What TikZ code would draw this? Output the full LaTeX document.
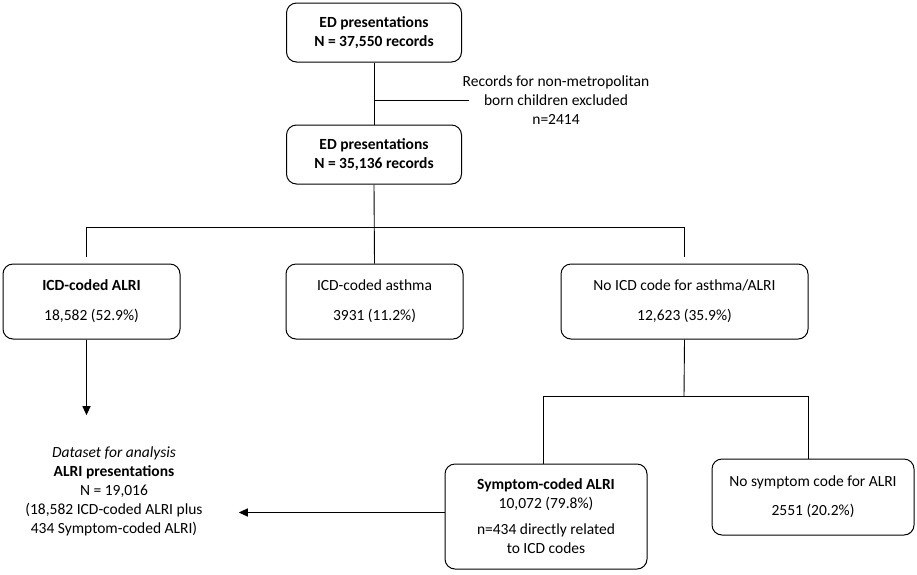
\documentclass[tikz,border=0pt]{standalone}
\usepackage{fontspec}
\setmainfont{Carlito}
\usetikzlibrary{arrows.meta}

\tikzset{
    flowbox/.style={draw, line width=1pt, rounded corners=10pt, align=center,
        inner sep=0pt},
    plaintext/.style={align=center, inner sep=0pt},
    link/.style={line width=0.9pt},
    arrowlink/.style={line width=1.1pt, -{Triangle[length=9pt,width=8pt]}}
}

\begin{document}
\begin{tikzpicture}[x=1pt, y=-1pt, font=\fontsize{15.5}{19}\selectfont]
    \useasboundingbox (0,0) rectangle (917,574);
    \node[flowbox, minimum width=175pt, minimum height=59pt] (ed1) at (374,32.5)
        {\textbf{ED presentations}\\ \textbf{N = 37,550 records}};
    \node[flowbox, minimum width=175pt, minimum height=59pt] (ed2) at (374,154.5)
        {\textbf{ED presentations}\\ \textbf{N = 35,136 records}};
    \node[plaintext] (excl) at (556,100)
        {Records for non-metropolitan\\ born children excluded\\ n=2414};
    \node[flowbox, minimum width=177pt, minimum height=75pt] (alri) at (91.5,301.5)
        {\textbf{ICD-coded ALRI}\\[11pt] 18,582 (52.9\%)};
    \node[flowbox, minimum width=177pt, minimum height=75pt] (asthma) at (374.5,301.5)
        {ICD-coded asthma\\[11pt] 3931 (11.2\%)};
    \node[flowbox, minimum width=247pt, minimum height=75pt] (nocode) at (684.5,301.5)
        {No ICD code for asthma/ALRI\\[11pt] 12,623 (35.9\%)};
    \node[flowbox, minimum width=202pt, minimum height=105pt] (symp) at (546,516.5)
        {\textbf{Symptom-coded ALRI}\\ 10,072 (79.8\%)\\[7pt] n=434 directly related\\ to ICD codes};
    \node[flowbox, minimum width=202pt, minimum height=76pt] (nosymp) at (813,497)
        {No symptom code for ALRI\\[10pt] 2551 (20.2\%)};
    \node[plaintext] (dataset) at (114,491)
        {\textit{Dataset for analysis}\\ \textbf{ALRI presentations}\\ N = 19,016\\
         (18,582 ICD-coded ALRI plus\\ 434 Symptom-coded ALRI)};

    \coordinate (exclend) at (469,100);
    \coordinate (split) at (374,227);
    \coordinate (split2) at (684,396);

    \draw[link] (ed1.south) -- (ed2.north);
    \draw[link] (ed1.south |- exclend) -- (exclend);
    \draw[link] (ed2.south) -- (asthma.north);
    \draw[link] ([xshift=-5pt]alri.north |- split) -- (nocode.north |- split);
    \draw[link] ([xshift=-5pt]alri.north |- split) -- ([xshift=-5pt,yshift=7pt]alri.north);
    \draw[link] (nocode.north |- split) -- ([yshift=7pt]nocode.north);
    \draw[arrowlink, shorten >=31pt] ([xshift=-5pt]alri.south) -- ([xshift=-5pt]alri.south |- dataset.north);
    \draw[link] (nocode.south) -- (split2);
    \draw[link] ([xshift=-3pt]symp.north |- split2) -- ([xshift=-5pt]nosymp.north |- split2);
    \draw[link] ([xshift=-3pt]symp.north |- split2) -- ([xshift=-3pt]symp.north);
    \draw[link] ([xshift=-5pt]nosymp.north |- split2) -- ([xshift=-5pt]nosymp.north);
    \draw[arrowlink, shorten >=36pt] ([yshift=4pt]symp.west) -- ([yshift=4pt]symp.west -| dataset.east);
\end{tikzpicture}
\end{document}
